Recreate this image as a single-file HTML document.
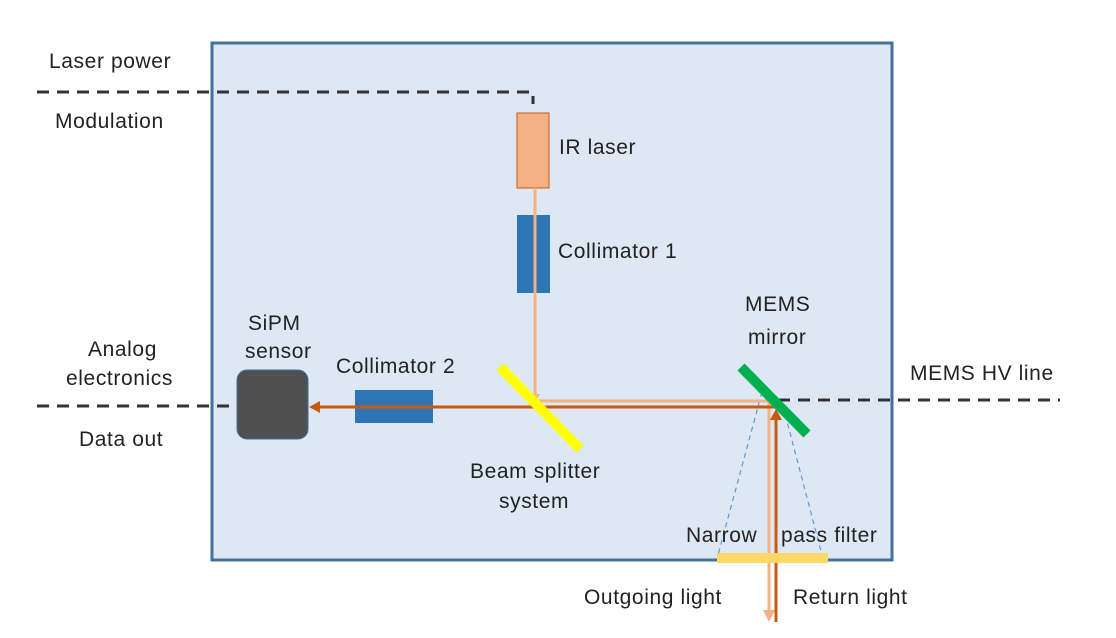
<!DOCTYPE html>
<html><head><style>
body{margin:0;background:#fff;}
svg text{font-family:"Liberation Sans",sans-serif;font-size:21px;letter-spacing:0.6px;fill:#222;}
</style></head><body>
<svg width="1116" height="633" xmlns="http://www.w3.org/2000/svg">
<rect x="212" y="43" width="680" height="517" fill="#dee8f5" stroke="#41719c" stroke-width="3"/>
<path d="M37 92 H533 V104" fill="none" stroke="#333" stroke-width="3" stroke-dasharray="12,8"/>
<path d="M37 406 H237" fill="none" stroke="#333" stroke-width="3" stroke-dasharray="12,8"/>
<path d="M778 400 H1060" fill="none" stroke="#333" stroke-width="3" stroke-dasharray="12,8"/>
<rect x="517" y="113" width="32" height="75" fill="#f4b183" stroke="#c55a11" stroke-width="1"/>
<rect x="517" y="215" width="33" height="78" fill="#2e75b6"/>
<rect x="237" y="370" width="71" height="69" rx="10" fill="#505050" stroke="#41719c" stroke-width="1"/>
<rect x="355" y="390" width="78" height="33" fill="#2e75b6"/>
<line x1="762" y1="392" x2="718" y2="555" stroke="#5b9bd5" stroke-width="1.2" stroke-dasharray="5,4"/>
<line x1="783" y1="406" x2="822" y2="555" stroke="#5b9bd5" stroke-width="1.2" stroke-dasharray="5,4"/>
<path d="M535 188 V398 M535 401 H769 V612" fill="none" stroke="#f4b183" stroke-width="3"/>
<polygon points="530,394 540,394 535,403" fill="#f4b183"/>
<polygon points="763,610 775,610 769,622" fill="#f4b183"/>
<path d="M776 622 V418 M776 407 H318" fill="none" stroke="#c55a11" stroke-width="3"/>
<polygon points="770,420 782,420 776,409" fill="#c55a11"/>
<polygon points="320,401 320,413 309,407" fill="#c55a11"/>
<line x1="500" y1="367" x2="580" y2="449" stroke="#ffff00" stroke-width="10"/>
<line x1="741" y1="367" x2="807" y2="434" stroke="#00b050" stroke-width="10"/>
<rect x="717" y="553" width="111" height="10" fill="#ffd966"/>
<text x="49" y="68">Laser power</text>
<text x="55" y="128">Modulation</text>
<text x="559" y="154">IR laser</text>
<text x="558" y="258">Collimator 1</text>
<text x="248" y="330">SiPM</text>
<text x="245" y="358">sensor</text>
<text x="88" y="356">Analog</text>
<text x="66" y="385">electronics</text>
<text x="79" y="446">Data out</text>
<text x="336" y="373">Collimator 2</text>
<text x="745" y="311">MEMS</text>
<text x="748" y="344">mirror</text>
<text x="910" y="380">MEMS HV line</text>
<text x="470" y="478">Beam splitter</text>
<text x="499" y="508">system</text>
<text x="686" y="542">Narrow</text>
<text x="781" y="542">pass filter</text>
<text x="584" y="604">Outgoing light</text>
<text x="793" y="604">Return light</text>
</svg>
</body></html>
